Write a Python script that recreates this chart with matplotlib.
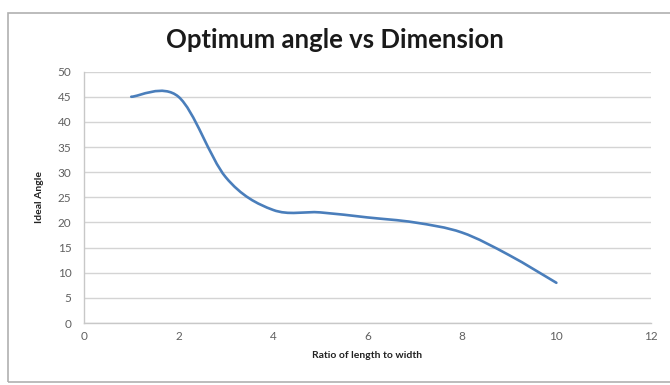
import numpy as np
import matplotlib.pyplot as plt
from matplotlib.path import Path
from matplotlib.patches import PathPatch, Rectangle

# ratio of length to width vs ideal angle
ratio = [1, 2, 3, 4, 5, 6, 7, 8, 9, 10]
angle = [45, 45, 29, 22.5, 22, 21, 20, 18, 13.5, 8]

x_ticks = [0, 2, 4, 6, 8, 10, 12]
y_ticks = [0, 5, 10, 15, 20, 25, 30, 35, 40, 45, 50]

plt.rcParams['font.family'] = ['Lato', 'DejaVu Sans']

fig = plt.figure(figsize=(6.7, 3.85), dpi=100)
ax = fig.add_axes([0.1254, 0.161, 0.846, 0.653])

# smoothed line, bezier segments with control points at 1/6 of neighbour spacing
pts = np.column_stack([ratio, angle]).astype(float)
verts = [tuple(pts[0])]
codes = [Path.MOVETO]
n = len(pts)
for i in range(n - 1):
    p0 = pts[max(i - 1, 0)]
    p1 = pts[i]
    p2 = pts[i + 1]
    p3 = pts[min(i + 2, n - 1)]
    c1 = p1 + (p2 - p0) / 6.0
    c2 = p2 - (p3 - p1) / 6.0
    verts += [tuple(c1), tuple(c2), tuple(p2)]
    codes += [Path.CURVE4] * 3
ax.add_patch(PathPatch(Path(verts, codes), fill=False, edgecolor='#4a7ebb',
                       linewidth=1.9, capstyle='round', zorder=3))

ax.set_xlim(0, 12)
ax.set_ylim(0, 50)
ax.set_xticks(x_ticks)
ax.set_yticks(y_ticks)
ax.grid(axis='y', color='#d4d4d4', linewidth=1.0)
ax.set_axisbelow(True)
for s in ['top', 'right']:
    ax.spines[s].set_visible(False)
for s in ['left', 'bottom']:
    ax.spines[s].set_color('#c8c8c8')
    ax.spines[s].set_linewidth(1.0)
ax.tick_params(axis='y', length=0, labelsize=8.5, labelcolor='#606060', pad=9)
ax.tick_params(axis='x', length=0, labelsize=8.5, labelcolor='#606060', pad=6)

fig.text(0.5, 1 - 40 / 385, 'Optimum angle vs Dimension', fontsize=18.5,
         fontweight='bold', color='#1a1a1a', ha='center', va='center')
ax.set_xlabel('Ratio of length to width', fontsize=7.5, fontweight='bold',
              color='#222222', labelpad=6)
ax.set_ylabel('Ideal Angle', fontsize=7.5, fontweight='bold', color='#222222',
              labelpad=10)

# chart frame
fig.patches.append(Rectangle((8 / 670, 3 / 385), 1.2, 369 / 385,
                             transform=fig.transFigure, fill=False,
                             edgecolor='#b0b0b0', linewidth=1.2))

fig.savefig('out.png', dpi=100)
